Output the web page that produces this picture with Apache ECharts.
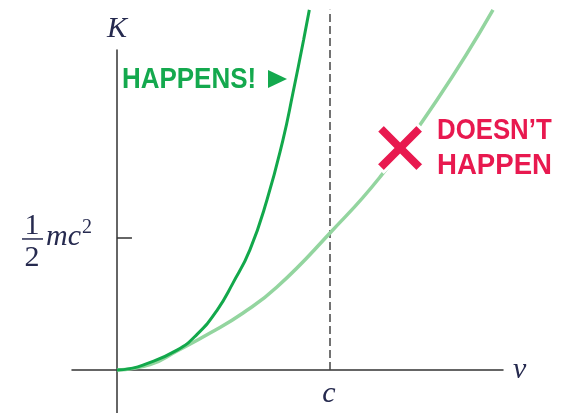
<!DOCTYPE html>
<html>
<head>
<meta charset="utf-8">
<style>html,body{margin:0;padding:0;background:#fff;}#c{width:561px;height:413px;}</style>
<script src="https://cdn.jsdelivr.net/npm/echarts@6/dist/echarts.min.js"></script>
</head>
<body>
<div id="c"></div>
<script>
// v in units of c, K in units of mc^2
const relV = [0, 0.06, 0.122, 0.282, 0.376, 0.469, 0.545, 0.624, 0.704, 0.779, 0.826, 0.876, 0.903];
const relK = [0, 0.005, 0.018, 0.075, 0.135, 0.225, 0.330, 0.455, 0.644, 0.871, 1.049, 1.250, 1.364];
const clsV = [0, 0.155, 0.282, 0.437, 0.592, 0.751, 1.0, 1.235, 1.502, 1.765];
const clsK = [0, 0.020, 0.072, 0.140, 0.216, 0.314, 0.519, 0.731, 1.023, 1.364];
const lightSpeed = [1];
const speedLabels = ['c'];
const dashTop = [1.364];
const halfTick = [0.5];
const crossMark = [1.329, 0.841];

const serif = '"Liberation Serif", "DejaVu Serif", serif';
const sans = '"Liberation Sans", Arial, sans-serif';
const ink = '#262a4f';

const chart = echarts.init(document.getElementById('c'));
chart.setOption({
  animation: false,
  backgroundColor: '#fff',
  grid: { left: 72, right: 58, top: 50, bottom: 0, containLabel: false, outerBoundsMode: 'none' },
  xAxis: {
    type: 'value', min: -0.211, max: 1.812,
    axisLine: { onZero: true, lineStyle: { color: '#333', width: 1.5 } },
    axisTick: { show: false },
    splitLine: { show: false },
    axisLabel: { show: false },
    name: 'v', nameLocation: 'end', nameGap: 10,
    nameTextStyle: { fontFamily: serif, fontStyle: 'italic', fontSize: 30, color: ink, padding: [8, 0, 0, 0] }
  },
  yAxis: {
    type: 'value', min: -0.163, max: 1.212,
    axisLine: { onZero: true, lineStyle: { color: '#333', width: 1.5 } },
    axisTick: { show: true, inside: true, length: 15, customValues: halfTick, lineStyle: { color: '#333', width: 1.5 } },
    splitLine: { show: false },
    axisLabel: { show: false },
    name: 'K', nameLocation: 'end', nameGap: 6,
    nameTextStyle: { fontFamily: serif, fontStyle: 'italic', fontSize: 30, color: ink, align: 'center' }
  },
  series: [
    {
      type: 'line', clip: false, symbol: 'none', smooth: 0.5, z: 3,
      data: clsV.map((v, i) => [v, clsK[i]]),
      lineStyle: { color: '#93d59f', width: 3.5 }
    },
    {
      type: 'line', clip: false, symbol: 'none', smooth: 0.5, z: 4,
      data: relV.map((v, i) => [v, relK[i]]),
      lineStyle: { color: '#12a84b', width: 3 }
    },
    {
      type: 'line', clip: false, symbol: 'none', z: 2,
      data: [[lightSpeed[0], 0], [lightSpeed[0], dashTop[0]]],
      lineStyle: { color: '#444', width: 1.5, type: [8, 4] }
    },
    {
      type: 'scatter', z: 6, clip: false,
      data: [crossMark],
      symbol: 'path://M0,16L16,0L50,34L84,0L100,16L66,50L100,84L84,100L50,66L16,100L0,84L34,50Z',
      symbolSize: 48,
      itemStyle: { color: '#e8194f', borderColor: '#fff', borderWidth: 3, opacity: 1 }
    }
  ]
});

const yHalf = chart.convertToPixel({ yAxisIndex: 0 }, halfTick[0]);
const yZero = chart.convertToPixel({ yAxisIndex: 0 }, 0);
const xC = chart.convertToPixel({ xAxisIndex: 0 }, lightSpeed[0]);
chart.setOption({
  graphic: [
    { type: 'text', style: { x: xC - 1, y: yZero + 24, text: speedLabels[0], font: 'italic 30px ' + serif, fill: ink, align: 'center', verticalAlign: 'middle' } },
    { type: 'text', style: { x: 32, y: yHalf - 12, text: '1', font: 'normal 30px ' + serif, fill: ink, align: 'center', verticalAlign: 'middle' } },
    { type: 'line', shape: { x1: 22, y1: yHalf + 1, x2: 43, y2: yHalf + 1 }, style: { stroke: ink, lineWidth: 1.5 } },
    { type: 'text', style: { x: 32, y: yHalf + 20, text: '2', font: 'normal 30px ' + serif, fill: ink, align: 'center', verticalAlign: 'middle' } },
    { type: 'text', style: { x: 46, y: yHalf - 1, text: 'mc', font: 'italic 30px ' + serif, fill: ink, align: 'left', verticalAlign: 'middle' } },
    { type: 'text', style: { x: 82, y: yHalf - 10, text: '2', font: 'normal 20px ' + serif, fill: ink, align: 'left', verticalAlign: 'middle' } },
    { type: 'text', x: 122, y: 80, scaleX: 0.865, style: { x: 0, y: 0, text: 'HAPPENS!', font: 'bold 30px ' + sans, fill: '#14a94e', align: 'left', verticalAlign: 'middle' } },
    { type: 'polygon', shape: { points: [[268, 70], [268, 88], [287, 79]] }, style: { fill: '#14a94e' } },
    { type: 'text', x: 437, y: 131, scaleX: 0.86, style: { x: 0, y: 0, text: 'DOESN\u2019T', font: 'bold 30px ' + sans, fill: '#e8194f', align: 'left', verticalAlign: 'middle' } },
    { type: 'text', x: 437, y: 166, scaleX: 0.92, style: { x: 0, y: 0, text: 'HAPPEN', font: 'bold 30px ' + sans, fill: '#e8194f', align: 'left', verticalAlign: 'middle' } }
  ]
});
</script>
</body>
</html>
